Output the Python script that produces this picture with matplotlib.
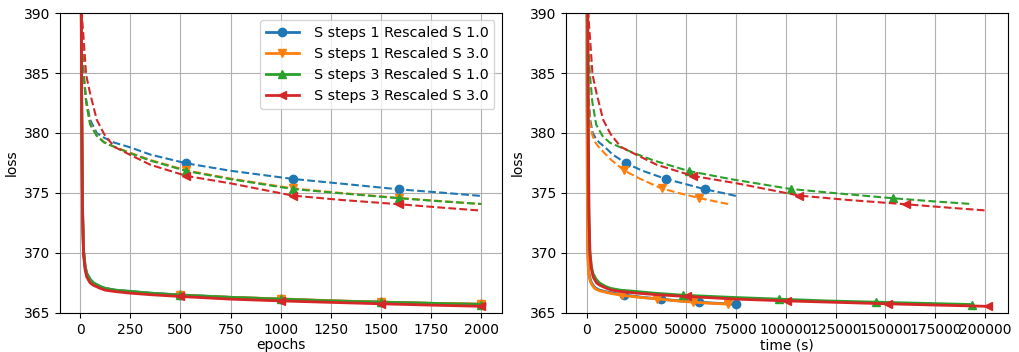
import numpy as np
from matplotlib import pyplot as plt

LABELS = ['S steps 1 Rescaled S 1.0',
          'S steps 1 Rescaled S 3.0',
          'S steps 3 Rescaled S 1.0',
          'S steps 3 Rescaled S 3.0']
MARKERS = ['o', 'v', '^', '<']
COLORS = ['tab:blue', 'tab:orange', 'tab:green', 'tab:red']

# wall clock seconds per epoch for each run
SEC_PER_EPOCH = [37.5, 35.5, 96.7, 100.7]

# training loss (solid)
TRAIN_EPOCHS = [0, 4, 8, 12, 17, 25, 33, 50, 67, 100, 125, 175, 250, 350,
                500, 750, 1000, 1250, 1500, 1750, 2000]
TRAIN_MARK = [0, 14, 16, 18, 20]
TRAIN_S1_R1 = [440, 400, 383, 374, 370.3, 368.9, 368.3, 367.8, 367.5, 367.2, 367.05,
               366.9, 366.78, 366.65, 366.5, 366.3, 366.15, 366.0, 365.9, 365.8, 365.72]
TRAIN_S1_R3 = [440, 398, 382, 373.5, 370.1, 368.8, 368.2, 367.7, 367.45, 367.15, 367.0,
               366.87, 366.75, 366.62, 366.47, 366.3, 366.17, 366.02, 365.9, 365.8, 365.74]
TRAIN_S3_R1 = [440, 399, 382.5, 373.8, 370.2, 368.9, 368.3, 367.8, 367.5, 367.2, 367.05,
               366.9, 366.8, 366.65, 366.48, 366.3, 366.15, 366.0, 365.9, 365.8, 365.7]
TRAIN_S3_R3 = [440, 397, 381.5, 373.2, 369.9, 368.6, 368.0, 367.5, 367.3, 367.05, 366.9,
               366.78, 366.65, 366.52, 366.37, 366.15, 366.0, 365.88, 365.76, 365.65, 365.55]

# validation loss (dashed)
VAL_EPOCHS = [0, 5, 10, 17, 30, 50, 83, 120, 170, 250, 350, 530, 750, 1060, 1300,
              1590, 1800, 2000]
VAL_MARK = [0, 11, 13, 15]
VAL_S1_R1 = [405, 390, 387.3, 385, 382.8, 381.1, 380.0, 379.6, 379.2, 378.8, 378.2,
             377.47, 376.85, 376.17, 375.78, 375.3, 375.03, 374.75]
VAL_S1_R3 = [405, 390, 387.3, 385, 382.6, 380.8, 379.8, 379.25, 378.85, 378.35, 377.75,
             376.88, 376.2, 375.38, 375.0, 374.58, 374.32, 374.08]
VAL_S3_R1 = [405, 390, 387.3, 385, 382.6, 380.7, 379.75, 379.2, 378.85, 378.3, 377.7,
             376.83, 376.15, 375.33, 374.97, 374.56, 374.3, 374.08]
VAL_S3_R3 = [410, 393, 389.5, 388.0, 384.85, 383.3, 381.1, 379.9, 378.85, 378.17, 377.35,
             376.42, 375.8, 374.78, 374.42, 374.06, 373.78, 373.53]

TRAIN = [TRAIN_S1_R1, TRAIN_S1_R3, TRAIN_S3_R1, TRAIN_S3_R3]
VAL = [VAL_S1_R1, VAL_S1_R3, VAL_S3_R1, VAL_S3_R3]


def main():
    fig, (ax1, ax2) = plt.subplots(1, 2, figsize=(10.19, 3.52), dpi=100)
    fig.subplots_adjust(left=0.0589, right=0.9892, bottom=0.111, top=0.963, wspace=0.147)

    train_ep = np.array(TRAIN_EPOCHS)
    val_ep = np.array(VAL_EPOCHS)
    for i in range(4):
        for ax, scale in ((ax1, 1.0), (ax2, SEC_PER_EPOCH[i])):
            ax.plot(train_ep * scale, TRAIN[i], color=COLORS[i], marker=MARKERS[i],
                    markevery=TRAIN_MARK, lw=2, label=LABELS[i])
            ax.plot(val_ep * scale, VAL[i], color=COLORS[i], marker=MARKERS[i],
                    markevery=VAL_MARK, lw=1.5, ls='--')

    for ax in (ax1, ax2):
        ax.set_ylim(365, 390)
        ax.set_ylabel('loss')
        ax.grid(True)
    ax1.set_xlabel('epochs', labelpad=1)
    ax2.set_xlabel('time (s)', labelpad=1)
    ax1.legend(loc='upper right', fontsize=10.3, handlelength=2.3, handletextpad=1.05)

    plt.savefig('out.png', dpi=100)


if __name__ == '__main__':
    main()
